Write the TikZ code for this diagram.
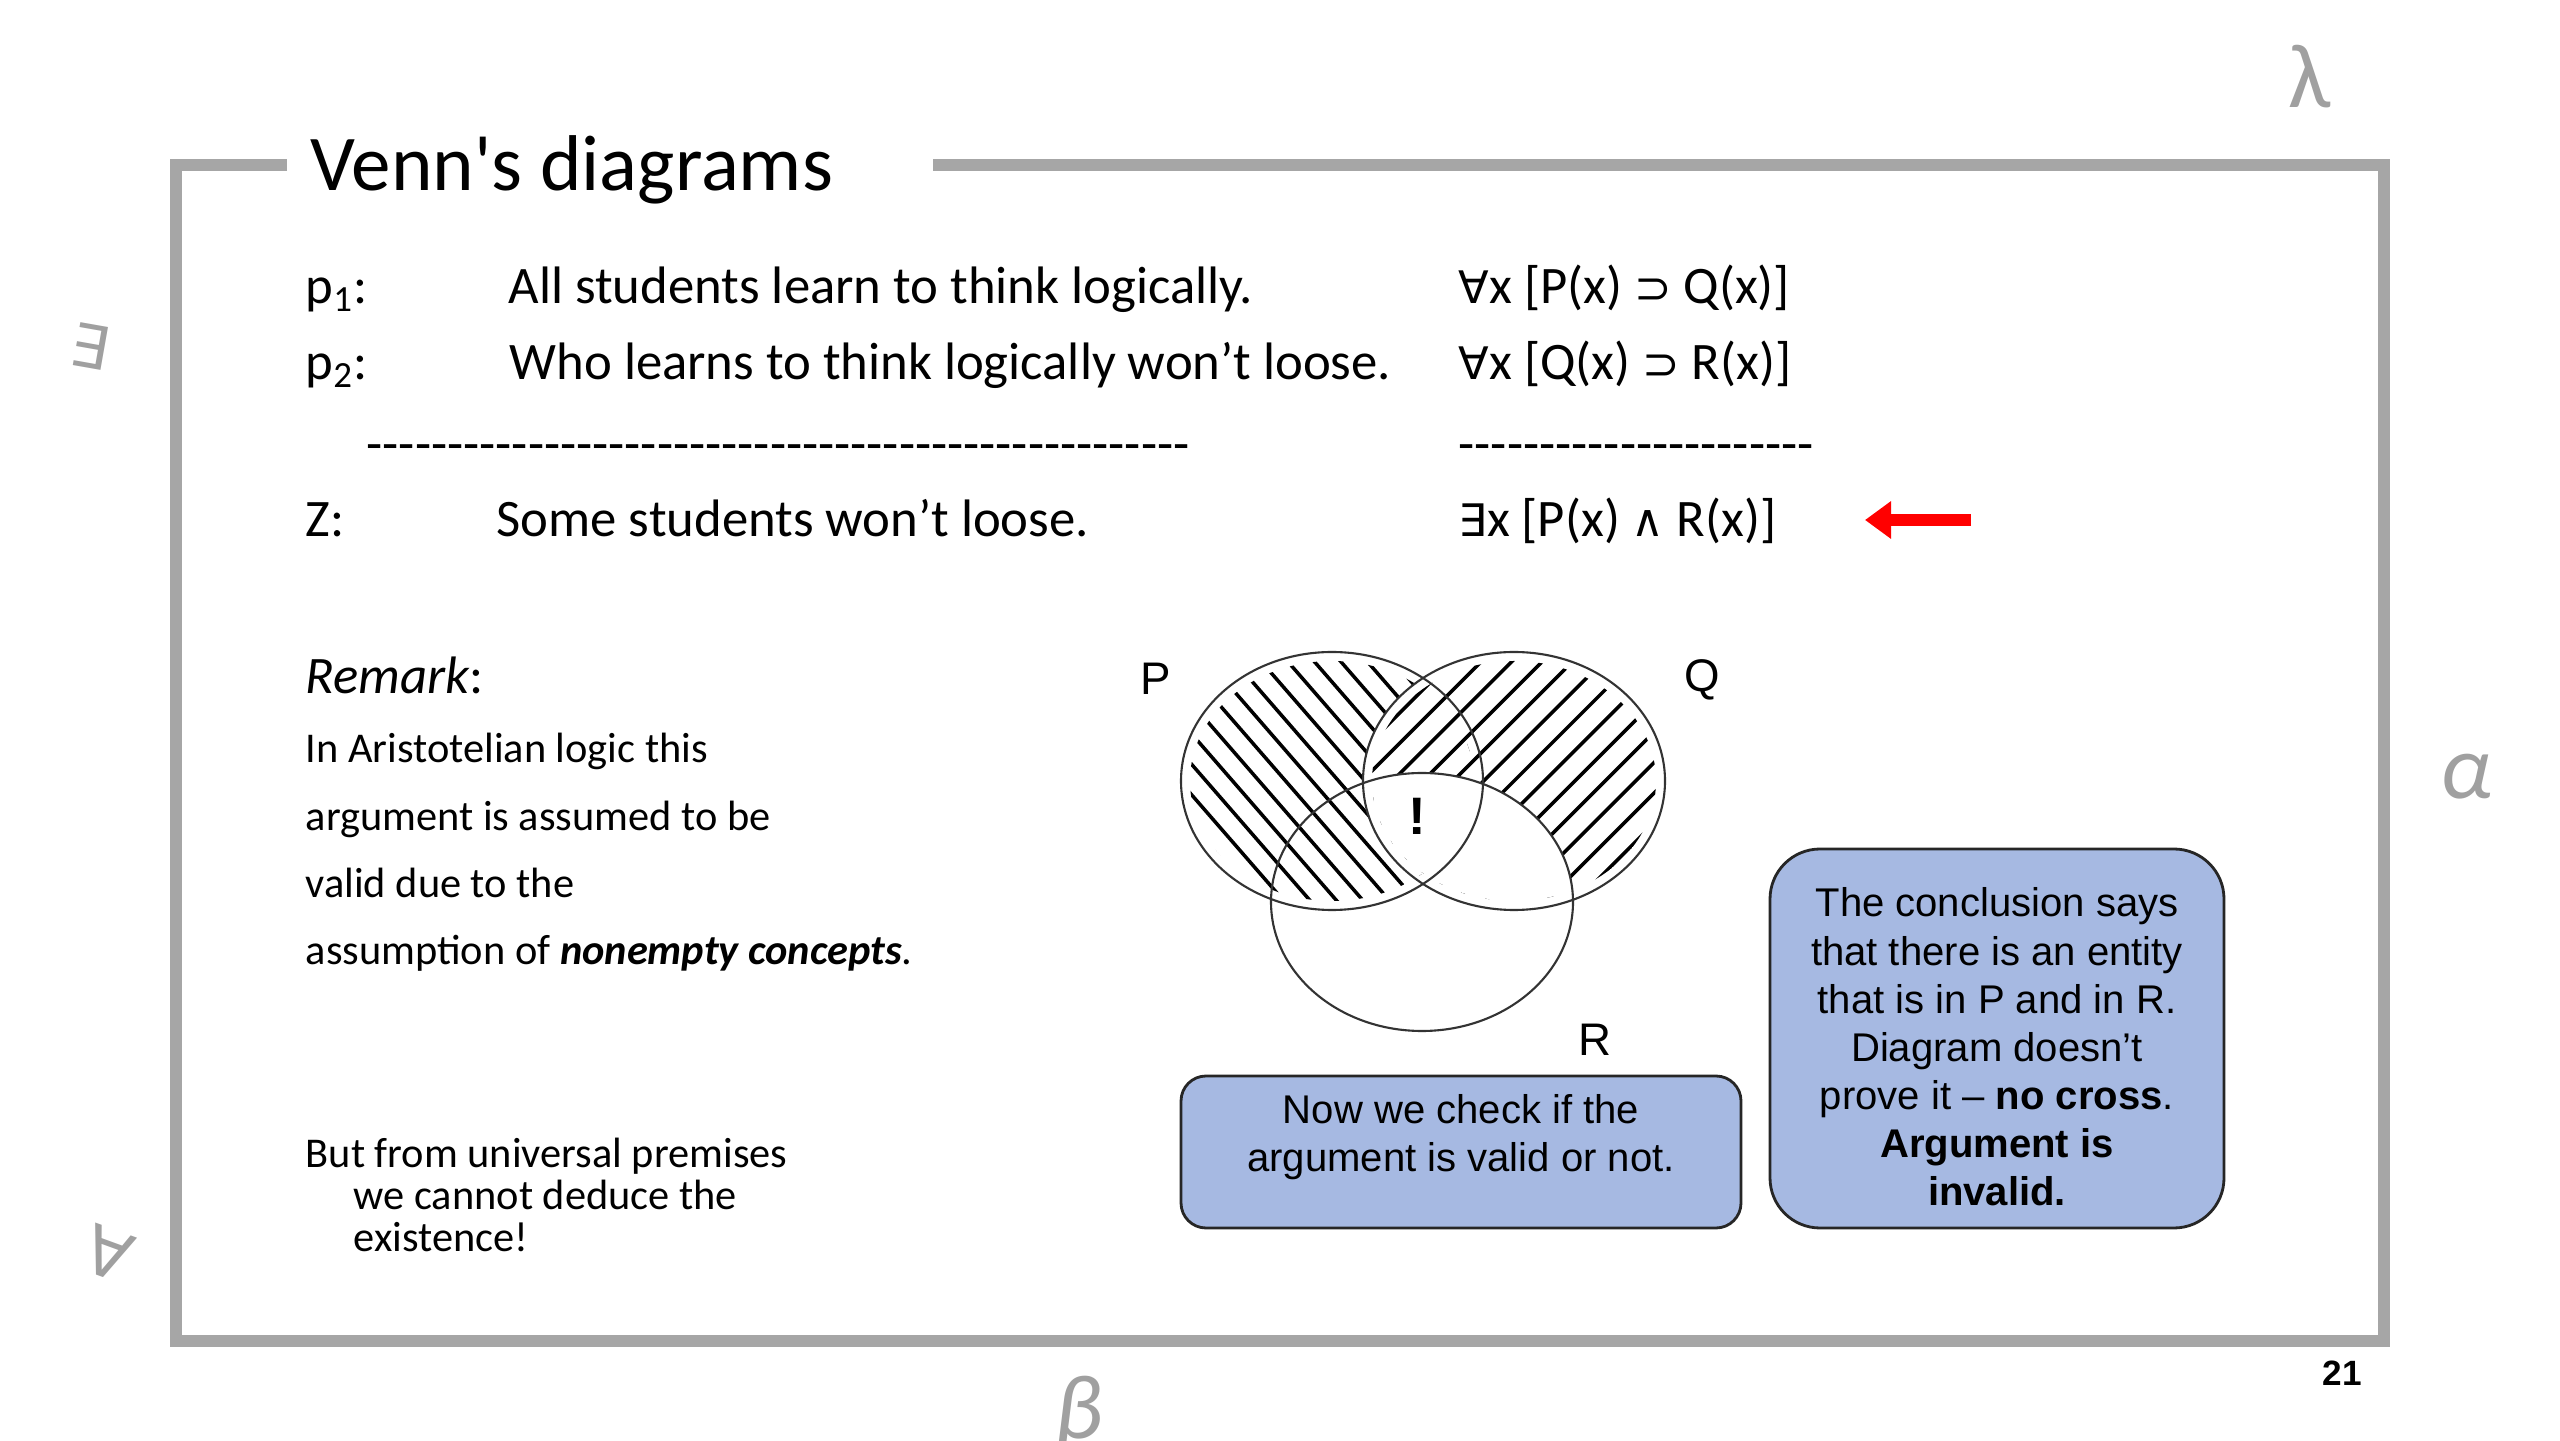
\documentclass[tikz,border=0pt]{standalone}
\usepackage{fontspec}
\setmainfont{Carlito}
\newfontfamily\arialfont{Liberation Sans}
\newfontfamily\symbfont{DejaVu Sans}[Scale=0.85]
\newfontfamily\glyphfont{DejaVu Sans}
\usetikzlibrary{arrows.meta,positioning}

\definecolor{framegray}{RGB}{166,166,166}
\definecolor{glyphgray}{RGB}{160,160,160}
\definecolor{notefill}{RGB}{166,185,226}
\definecolor{arrowred}{RGB}{255,0,0}

\newcommand{\dashrow}[1]{\foreach \n in {1,...,#1}{-}}
\newcommand{\straightquote}{{\XeTeXglyph\XeTeXcharglyph"27\relax}}

\tikzset{
  body/.style={anchor=base west, inner sep=0pt, font=\fontsize{15}{18}\selectfont},
  smalltext/.style={anchor=base west, inner sep=0pt, align=left},
  glyph/.style={text=glyphgray, inner sep=0pt},
  venn/.style={draw=black!80, line width=0.6pt},
  hatch/.style={line width=1.0pt},
  notebox/.style={draw=black!85, line width=0.8pt, fill=notefill},
  notetext/.style={align=center, font=\arialfont\fontsize{11.4}{13.7}\selectfont},
  setlabel/.style={font=\arialfont\fontsize{13}{15}\selectfont, inner sep=0pt}
}

\begin{document}
\begin{tikzpicture}[x=1cm,y=1cm]
\useasboundingbox (0,0) rectangle (25.6,14.4);
% frame and title
\draw[framegray, line width=0.12cm, line join=miter] (2.87,12.75) -- (1.76,12.75) -- (1.76,0.99) -- (23.84,0.99) -- (23.84,12.75) -- (9.33,12.75);
\node[anchor=base west, inner sep=0pt, font=\fontsize{22.5}{27}\selectfont] (title) at (3.10,12.49) {Venn\straightquote s diagrams};

% premises and conclusion
\node[body] (p1) at (3.05,11.36) {p\textsubscript{1}:};
\node[body] (p1text) at (5.08,11.36) {All students learn to think logically.};
\node[body] (p1form) at (14.58,11.36) {{\symbfont ∀}x [P(x) {\symbfont ⊃} Q(x)]};
\node[body] (p2) at (3.05,10.60) {p\textsubscript{2}:};
\node[body] (p2text) at (5.09,10.60) {Who learns to think logically won’t loose.};
\node[body] (p2form) at (14.58,10.60) {{\symbfont ∀}x [Q(x) {\symbfont ⊃} R(x)]};
\node[body] (rulel) at (3.66,9.78) {\dashrow{51}};
\node[body] (ruler) at (14.58,9.78) {\dashrow{22}};
\node[body] (z) at (3.05,9.03) {Z:};
\node[body] (ztext) at (4.96,9.03) {Some students won’t loose.};
\node[body] (zform) at (14.58,9.03) {{\symbfont ∃}x [P(x) {\symbfont ∧} R(x)]};
\coordinate (arrowtail) at (19.71,9.20);
\coordinate (arrowtip) at (18.65,9.20);
\draw[arrowred, line width=0.12cm, -{Triangle[length=0.26cm,width=0.36cm]}] (arrowtail) -- (arrowtip);

% remark
\node[body] (remark) at (3.05,7.46) {\textit{Remark}:};
\node[smalltext, font=\fontsize{12.06}{19.2}\selectfont] (remarktext) at (3.05,4.75)
  {In Aristotelian logic this\\argument is assumed to be\\valid due to the\\assumption of \textbf{\textit{nonempty concepts}}.};
\node[smalltext, font=\fontsize{12.06}{11.84}\selectfont] (but) at (3.05,1.89)
  {But from universal premises\\\hspace*{0.48cm}we cannot deduce the\\\hspace*{0.48cm}existence!};

% venn diagram
\coordinate (Pc) at (13.32,6.59);
\coordinate (Qc) at (15.14,6.59);
\coordinate (Rc) at (14.22,5.38);
\begin{scope}
  \clip (Pc) ellipse [x radius=1.42, y radius=1.20];
  \begin{scope}[shift={(13.32,6.59)}, rotate=41]
    \foreach \k in {-9,...,9}
      \draw[hatch] (\k*0.20+0.05,-2) -- (\k*0.20+0.05,2);
  \end{scope}
  \fill[white] (Qc) ellipse [x radius=1.51, y radius=1.29];
\end{scope}
\begin{scope}
  \clip (Qc) ellipse [x radius=1.42, y radius=1.20];
  \begin{scope}[shift={(15.14,6.59)}, rotate=-45]
    \foreach \k in {-9,...,9}
      \draw[hatch] (\k*0.215,-2) -- (\k*0.215,2);
  \end{scope}
  \fill[white] (Rc) ellipse [x radius=1.51, y radius=1.29];
\end{scope}
\draw[venn] (Pc) ellipse [x radius=1.51, y radius=1.29];
\draw[venn] (Qc) ellipse [x radius=1.51, y radius=1.29];
\draw[venn] (Rc) ellipse [x radius=1.51, y radius=1.29];
\node[setlabel] (labP) at (11.56,7.61) {P};
\node[setlabel] (labQ) at (17.02,7.60) {Q};
\node[setlabel] (labR) at (15.95,4.00) {R};
\node[inner sep=0pt, font=\arialfont\bfseries\fontsize{15}{18}\selectfont] (mark) at (14.17,6.24) {!};

% notes
\node[notebox, rounded corners=0.25cm, minimum width=5.6cm, minimum height=1.52cm] (checkbox) at (14.61,2.88) {};
\node[notetext, below=0.07cm of checkbox.north] (checktext) {Now we check if the\\argument is valid or not.};
\node[notebox, rounded corners=0.5cm, minimum width=4.54cm, minimum height=3.79cm] (verdict) at (19.97,4.015) {};
\node[notetext] (verdicttext) at (19.97,3.93)
  {The conclusion says\\that there is an entity\\that is in P and in R.\\Diagram doesn’t\\prove it – \textbf{no cross}.\\\textbf{Argument is}\\\textbf{invalid.}};

% decorations round the frame
\node[glyph, font=\fontsize{26}{30}\selectfont] (lambda) at (23.10,13.63) {λ};
\node[glyph, font=\itshape\fontsize{26}{30}\selectfont] (alpha) at (24.66,6.63) {α};
\node[glyph, font=\itshape\fontsize{26}{30}\selectfont] (beta) at (10.79,0.25) {β};
\node[glyph, rotate=-10, font=\glyphfont\fontsize{17}{20}\selectfont] (exists) at (0.90,10.94) {∃};
\node[glyph, rotate=-20, font=\glyphfont\fontsize{19}{22}\selectfont] (forall) at (1.08,1.87) {∀};
\node[inner sep=0pt, font=\arialfont\bfseries\fontsize{10}{12}\selectfont] (pagenum) at (23.42,0.67) {21};
\end{tikzpicture}
\end{document}
